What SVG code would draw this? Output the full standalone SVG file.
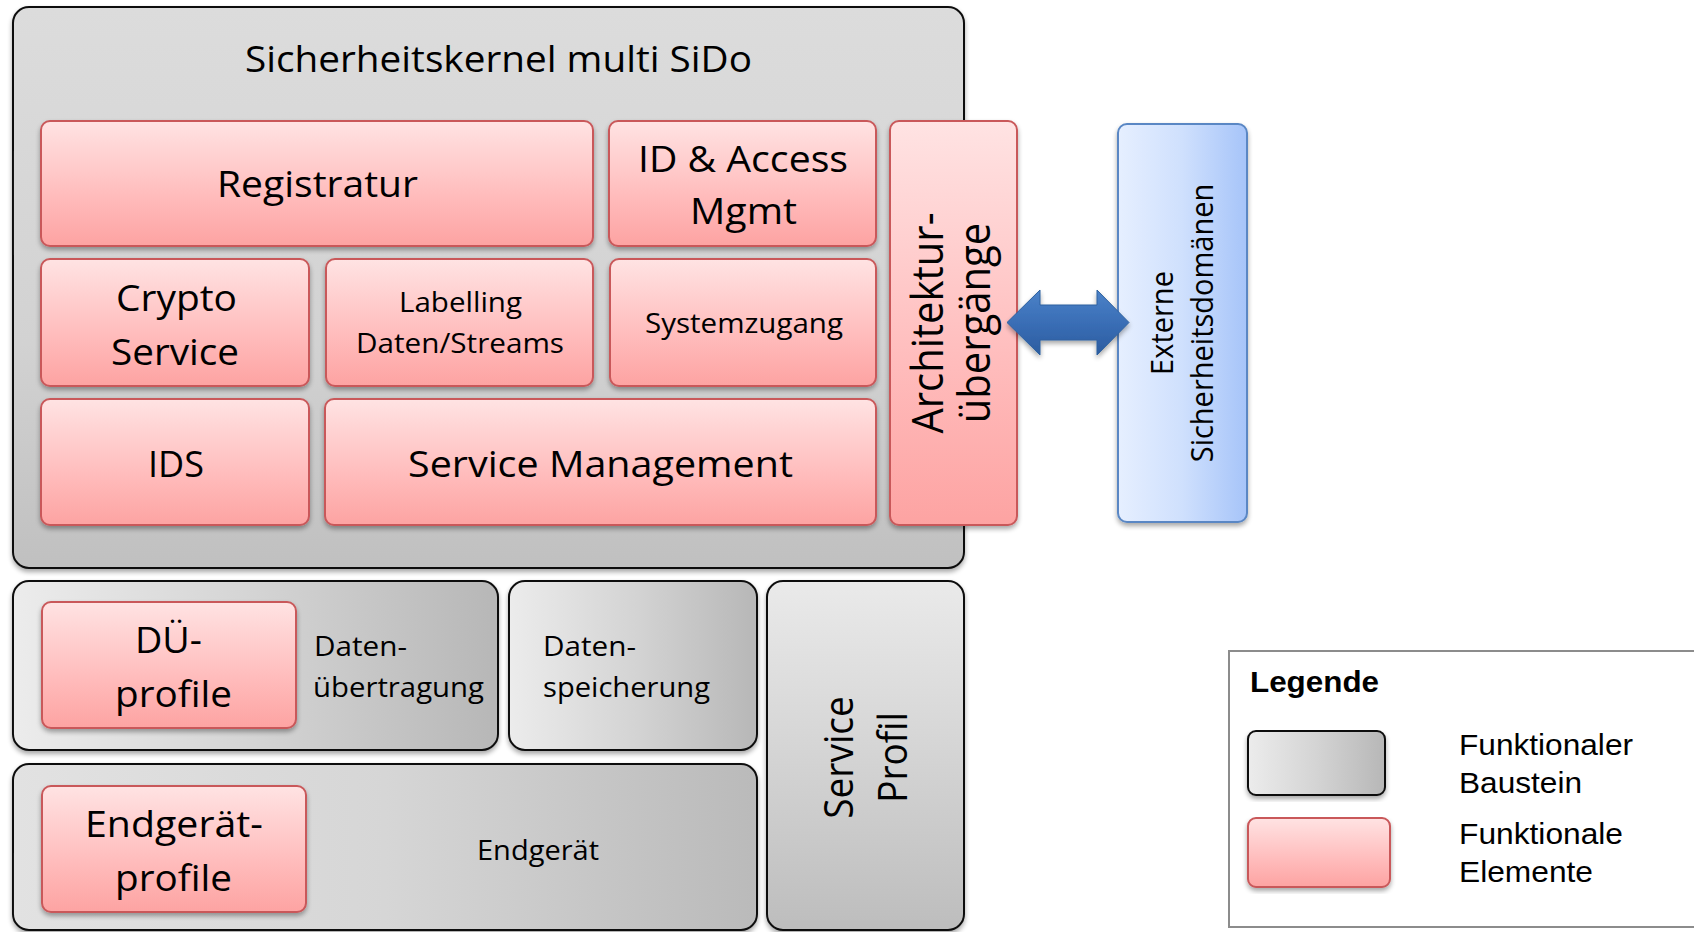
<svg xmlns="http://www.w3.org/2000/svg" width="1694" height="932" viewBox="0 0 1694 932">
<style>
.pink{fill:url(#gPink);stroke:#c9585a;stroke-width:2;filter:url(#sh)}
.grayV{fill:url(#gGrayV);stroke:#111;stroke-width:2;filter:url(#sh)}
.grayH{fill:url(#gGrayH);stroke:#111;stroke-width:2;filter:url(#sh)}
.t{font-family:"Open Sans","DejaVu Sans",sans-serif;fill:#000;}
.big{font-size:36px;text-anchor:middle}
.mid{font-size:27px}
.c{text-anchor:middle}
.leg{font-family:"Liberation Sans",Arial,sans-serif;fill:#000;font-size:29px}
</style>
<defs>
<linearGradient id="gPink" x1="0" y1="0" x2="0" y2="1">
<stop offset="0" stop-color="#ffe3e3"/>
<stop offset="0.6" stop-color="#ffbcbc"/>
<stop offset="1" stop-color="#fda3a2"/>
</linearGradient>
<linearGradient id="gKernel" x1="0" y1="0" x2="0" y2="1">
<stop offset="0" stop-color="#dcdcdc"/>
<stop offset="0.6" stop-color="#d2d2d2"/>
<stop offset="1" stop-color="#c0c0c0"/>
</linearGradient>
<linearGradient id="gGrayH" x1="0" y1="0" x2="1" y2="0">
<stop offset="0" stop-color="#ececec"/>
<stop offset="0.5" stop-color="#d4d4d4"/>
<stop offset="1" stop-color="#b7b7b7"/>
</linearGradient>
<linearGradient id="gGrayE" x1="0" y1="0" x2="1" y2="0">
<stop offset="0" stop-color="#e2e2e2"/>
<stop offset="0.5" stop-color="#d6d6d6"/>
<stop offset="1" stop-color="#bababa"/>
</linearGradient>
<linearGradient id="gGrayV" x1="0" y1="0" x2="0" y2="1">
<stop offset="0" stop-color="#eaeaea"/>
<stop offset="0.5" stop-color="#d4d4d4"/>
<stop offset="1" stop-color="#bdbdbd"/>
</linearGradient>
<linearGradient id="gBlue" x1="0" y1="0" x2="1" y2="0">
<stop offset="0" stop-color="#e6efff"/>
<stop offset="0.5" stop-color="#cfe0fd"/>
<stop offset="1" stop-color="#a6c4f9"/>
</linearGradient>
<linearGradient id="gArrow" x1="0" y1="0" x2="0" y2="1">
<stop offset="0" stop-color="#4b82c8"/>
<stop offset="0.5" stop-color="#3a6eb6"/>
<stop offset="1" stop-color="#2b5c9f"/>
</linearGradient>
<filter id="sh" x="-5%" y="-5%" width="110%" height="115%">
<feGaussianBlur in="SourceAlpha" stdDeviation="2.5"/>
<feOffset dx="0" dy="3" result="b"/>
<feComponentTransfer><feFuncA type="linear" slope="0.35"/></feComponentTransfer>
<feMerge><feMergeNode/><feMergeNode in="SourceGraphic"/></feMerge>
</filter>
</defs>

<g id="kernel">
<rect x="13" y="7" width="951" height="561" rx="16" fill="url(#gKernel)" stroke="#111" stroke-width="2" filter="url(#sh)"/>
<text class="t big" x="498.5" y="72" textLength="507" lengthAdjust="spacingAndGlyphs">Sicherheitskernel multi SiDo</text>
</g>

<g id="registratur">
<rect class="pink" x="41" y="121" width="552" height="125" rx="9"/>
<text class="t big" x="317.5" y="197" textLength="201" lengthAdjust="spacingAndGlyphs">Registratur</text>
</g>
<g id="idaccess">
<rect class="pink" x="609" y="121" width="267" height="125" rx="9"/>
<text class="t big" x="743" y="172" textLength="210" lengthAdjust="spacingAndGlyphs">ID &amp; Access</text>
<text class="t big" x="743.5" y="224" textLength="107" lengthAdjust="spacingAndGlyphs">Mgmt</text>
</g>
<g id="crypto">
<rect class="pink" x="41" y="259" width="268" height="127" rx="9"/>
<text class="t big" x="176.5" y="311" textLength="121" lengthAdjust="spacingAndGlyphs">Crypto</text>
<text class="t big" x="175" y="365" textLength="128" lengthAdjust="spacingAndGlyphs">Service</text>
</g>
<g id="labelling">
<rect class="pink" x="326" y="259" width="267" height="127" rx="9"/>
<text class="t mid c" x="460.5" y="312" textLength="123" lengthAdjust="spacingAndGlyphs">Labelling</text>
<text class="t mid c" x="460" y="353" textLength="208" lengthAdjust="spacingAndGlyphs">Daten/Streams</text>
</g>
<g id="systemzugang">
<rect class="pink" x="610" y="259" width="266" height="127" rx="9"/>
<text class="t mid c" x="744" y="333" textLength="198" lengthAdjust="spacingAndGlyphs">Systemzugang</text>
</g>
<g id="ids">
<rect class="pink" x="41" y="399" width="268" height="126" rx="9"/>
<text class="t big" x="176" y="477" textLength="56" lengthAdjust="spacingAndGlyphs">IDS</text>
</g>
<g id="servicemanagement">
<rect class="pink" x="325" y="399" width="551" height="126" rx="9"/>
<text class="t big" x="600.5" y="477" textLength="385" lengthAdjust="spacingAndGlyphs">Service Management</text>
</g>
<g id="architektur">
<rect class="pink" x="890" y="121" width="127" height="404" rx="9"/>
<text class="t" font-size="40" text-anchor="middle" transform="translate(943,323) scale(1.09,1) rotate(-90)">Architektur-</text>
<text class="t" font-size="40" text-anchor="middle" transform="translate(990,323) scale(1.09,1) rotate(-90)">übergänge</text>
</g>
<g id="externe">
<rect x="1118" y="124" width="129" height="398" rx="9" fill="url(#gBlue)" stroke="#5a87c4" stroke-width="2" filter="url(#sh)"/>
<text class="t" font-size="29" text-anchor="middle" transform="translate(1173,323) scale(1.09,1) rotate(-90)">Externe</text>
<text class="t" font-size="29" text-anchor="middle" transform="translate(1213,323) scale(1.09,1) rotate(-90)">Sicherheitsdomänen</text>
</g>

<g id="datenuebertragung">
<rect class="grayH" x="13" y="581" width="485" height="169" rx="16"/>
<text class="t mid" x="314" y="656" textLength="93" lengthAdjust="spacingAndGlyphs">Daten-</text>
<text class="t mid" x="313" y="697" textLength="171" lengthAdjust="spacingAndGlyphs">übertragung</text>
</g>
<g id="dueprofile">
<rect class="pink" x="42" y="602" width="254" height="126" rx="9"/>
<text class="t big" x="168.5" y="653" textLength="67" lengthAdjust="spacingAndGlyphs">DÜ-</text>
<text class="t big" x="173.5" y="707" textLength="117" lengthAdjust="spacingAndGlyphs">profile</text>
</g>
<g id="datenspeicherung">
<rect class="grayH" x="509" y="581" width="248" height="169" rx="16"/>
<text class="t mid" x="543" y="656" textLength="93" lengthAdjust="spacingAndGlyphs">Daten-</text>
<text class="t mid" x="543" y="697" textLength="167" lengthAdjust="spacingAndGlyphs">speicherung</text>
</g>
<g id="endgeraet">
<rect x="13" y="764" width="744" height="166" rx="16" fill="url(#gGrayE)" stroke="#111" stroke-width="2" filter="url(#sh)"/>
<text class="t mid c" x="538" y="860" textLength="122" lengthAdjust="spacingAndGlyphs">Endgerät</text>
</g>
<g id="endgeraetprofile">
<rect class="pink" x="42" y="786" width="264" height="126" rx="9"/>
<text class="t big" x="174" y="837" textLength="178" lengthAdjust="spacingAndGlyphs">Endgerät-</text>
<text class="t big" x="173.5" y="891" textLength="117" lengthAdjust="spacingAndGlyphs">profile</text>
</g>
<g id="serviceprofil">
<rect class="grayV" x="767" y="581" width="197" height="349" rx="16"/>
<text class="t" font-size="37" text-anchor="middle" transform="translate(853,757.5) scale(1.09,1) rotate(-90)">Service</text>
<text class="t" font-size="37" text-anchor="middle" transform="translate(907,757.5) scale(1.09,1) rotate(-90)">Profil</text>
</g>

<g id="connectors">
<path d="M1007,322.5 L1040,290 L1040,305 L1097,305 L1097,290 L1129,322.5 L1097,355 L1097,340 L1040,340 L1040,355 Z" fill="url(#gArrow)" stroke="#2f619f" stroke-width="1" filter="url(#sh)"/>
</g>

<g id="legende">
<rect x="1229" y="651" width="480" height="276" fill="#fff" stroke="#8c8c8c" stroke-width="2"/>
<text class="leg" x="1250" y="692" font-weight="bold" textLength="129" lengthAdjust="spacingAndGlyphs">Legende</text>
<rect x="1248" y="731" width="137" height="64" rx="8" fill="url(#gGrayH)" stroke="#111" stroke-width="2" filter="url(#sh)"/>
<rect x="1248" y="818" width="142" height="69" rx="8" class="pink"/>
<text class="leg" x="1459" y="755" textLength="174" lengthAdjust="spacingAndGlyphs">Funktionaler</text>
<text class="leg" x="1459" y="793" textLength="123" lengthAdjust="spacingAndGlyphs">Baustein</text>
<text class="leg" x="1459" y="844" textLength="164" lengthAdjust="spacingAndGlyphs">Funktionale</text>
<text class="leg" x="1459" y="882" textLength="134" lengthAdjust="spacingAndGlyphs">Elemente</text>
</g>
</svg>
